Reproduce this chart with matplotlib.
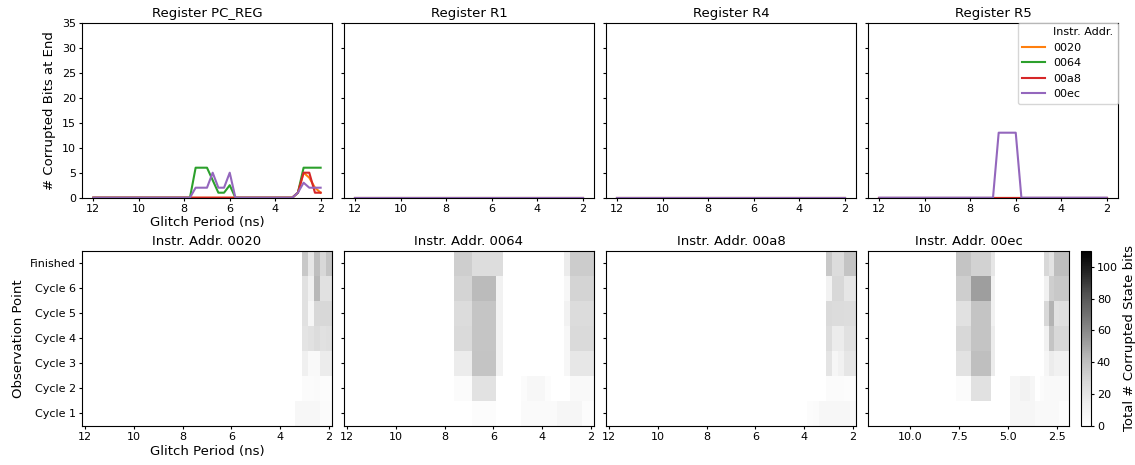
import numpy as np
import matplotlib
matplotlib.use("Agg")
import matplotlib.pyplot as plt
from matplotlib.lines import Line2D

plt.rcParams["font.size"] = 9.5
plt.rcParams["xtick.labelsize"] = 8
plt.rcParams["ytick.labelsize"] = 8
plt.rcParams["xtick.major.size"] = 2.2
plt.rcParams["ytick.major.size"] = 2.2
plt.rcParams["xtick.major.pad"] = 2
plt.rcParams["ytick.major.pad"] = 2
plt.rcParams["axes.titlesize"] = 9.5
plt.rcParams["axes.labelsize"] = 9.5

periods = np.linspace(12, 2, 41)
addrs = ["0020", "0064", "00a8", "00ec"]
registers = ["PC_REG", "R1", "R4", "R5"]
obs_points = ["Cycle 1", "Cycle 2", "Cycle 3", "Cycle 4", "Cycle 5", "Cycle 6", "Finished"]
line_colors = ["tab:orange", "tab:green", "tab:red", "tab:purple"]

# corrupted bits at end, only the non-zero (period, bits) points
pc_0020 = [(3.0, 1), (2.75, 5), (2.5, 4), (2.25, 2), (2.0, 1)]
pc_0064 = [(7.5, 6), (7.25, 6), (7.0, 6), (6.75, 3.5), (6.5, 1), (6.25, 1), (6.0, 2.5),
           (3.0, 1), (2.75, 6), (2.5, 6), (2.25, 6), (2.0, 6)]
pc_00a8 = [(3.0, 1), (2.75, 5), (2.5, 5), (2.25, 1), (2.0, 1)]
pc_00ec = [(7.5, 2), (7.25, 2), (7.0, 2), (6.75, 5), (6.5, 2), (6.25, 2), (6.0, 5),
           (3.0, 1), (2.75, 3), (2.5, 2), (2.25, 2), (2.0, 2)]
r5_00ec = [(6.75, 13), (6.5, 13), (6.25, 13), (6.0, 13)]

reg_bits = {
    "PC_REG": [pc_0020, pc_0064, pc_00a8, pc_00ec],
    "R1": [[], [], [], []],
    "R4": [[], [], [], []],
    "R5": [[], [], [], r5_00ec],
}

# total corrupted state bits, rows Cycle 1 .. Finished, spans (from, to, bits)
hm_0020 = [
    [(3.25, 2.5, 7), (2.25, 2.0, 4)],
    [(3.0, 2.75, 4), (2.5, 2.5, 5), (2.25, 2.0, 3)],
    [(3.0, 3.0, 14), (2.75, 2.5, 6), (2.25, 2.0, 16)],
    [(3.0, 3.0, 21), (2.75, 2.75, 23), (2.5, 2.5, 26), (2.25, 2.25, 23), (2.0, 2.0, 24)],
    [(3.0, 3.0, 23), (2.75, 2.75, 9), (2.5, 2.0, 28)],
    [(3.0, 3.0, 23), (2.75, 2.75, 14), (2.5, 2.5, 43), (2.25, 2.0, 23)],
    [(3.0, 3.0, 36), (2.75, 2.75, 20), (2.5, 2.5, 41), (2.25, 2.25, 28), (2.0, 2.0, 38)],
]
hm_0064 = [
    [(6.75, 6.0, 3), (4.75, 3.5, 5), (3.25, 2.5, 9), (2.25, 2.0, 3)],
    [(7.5, 7.0, 4), (6.75, 6.0, 22), (4.75, 4.75, 4), (4.5, 4.0, 7), (3.75, 3.75, 3), (2.75, 2.0, 6)],
    [(7.5, 7.0, 16), (6.75, 6.0, 38), (5.75, 5.75, 12), (3.0, 3.0, 8), (2.75, 2.0, 19)],
    [(7.5, 7.0, 27), (6.75, 6.0, 37), (5.75, 5.75, 12), (3.0, 3.0, 8), (2.75, 2.0, 27)],
    [(7.5, 7.0, 26), (6.75, 6.0, 37), (5.75, 5.75, 12), (3.0, 3.0, 12), (2.75, 2.0, 26)],
    [(7.5, 7.0, 30), (6.75, 6.0, 42), (5.75, 5.75, 12), (3.0, 3.0, 8), (2.75, 2.0, 30)],
    [(7.5, 7.0, 33), (6.75, 5.75, 25), (3.0, 3.0, 16), (2.75, 2.0, 34)],
]
hm_00a8 = [
    [(3.75, 3.75, 3), (3.5, 3.5, 4), (3.25, 2.5, 7), (2.25, 2.25, 8), (2.0, 2.0, 6)],
    [(3.0, 2.5, 4), (2.25, 2.0, 3)],
    [(3.0, 3.0, 21), (2.75, 2.75, 9), (2.5, 2.5, 13), (2.25, 2.0, 20)],
    [(3.0, 3.0, 25), (2.75, 2.5, 16), (2.25, 2.0, 23)],
    [(3.0, 3.0, 27), (2.75, 2.5, 26), (2.25, 2.0, 25)],
    [(3.0, 3.0, 12), (2.75, 2.5, 28), (2.25, 2.0, 20)],
    [(3.0, 3.0, 36), (2.75, 2.5, 26), (2.25, 2.0, 38)],
]
hm_00ec = [
    [(4.75, 3.75, 9), (3.5, 2.5, 6), (2.25, 2.0, 3)],
    [(7.5, 7.0, 4), (6.75, 6.0, 23), (4.75, 4.5, 9), (4.25, 4.0, 12), (3.75, 3.75, 9),
     (3.25, 3.25, 4), (3.0, 2.0, 6)],
    [(7.5, 7.0, 22), (6.75, 6.0, 40), (5.75, 5.75, 16), (3.0, 3.0, 9), (2.75, 2.75, 16), (2.5, 2.0, 13)],
    [(7.5, 7.0, 28), (6.75, 6.0, 38), (5.75, 5.75, 16), (3.0, 3.0, 13), (2.75, 2.75, 38), (2.5, 2.0, 28)],
    [(7.5, 7.0, 23), (6.75, 6.0, 38), (5.75, 5.75, 13), (3.0, 3.0, 28), (2.75, 2.75, 45),
     (2.5, 2.5, 23), (2.25, 2.0, 24)],
    [(7.5, 7.0, 33), (6.75, 6.0, 52), (5.75, 5.75, 13), (3.0, 3.0, 13), (2.75, 2.75, 33), (2.5, 2.0, 36)],
    [(7.5, 7.0, 38), (6.75, 6.0, 31), (5.75, 5.75, 20), (3.0, 3.0, 28), (2.75, 2.75, 22), (2.5, 2.0, 41)],
]
heatmaps = [hm_0020, hm_0064, hm_00a8, hm_00ec]
cmax = 110


def points_to_series(pts):
    y = np.zeros(len(periods))
    for p, v in pts:
        y[np.isclose(periods, p)] = v
    return y


def spans_to_row(spans):
    row = np.zeros(len(periods))
    for hi, lo, v in spans:
        row[(periods <= hi + 1e-6) & (periods >= lo - 1e-6)] = v
    return row


W, H = 1135, 465
fig = plt.figure(figsize=(W / 100, H / 100), dpi=100)

lefts = [82, 344, 606, 868]
top_axes = []
for i, reg in enumerate(registers):
    ax = fig.add_axes([lefts[i] / W, (H - 197.7) / H, 250 / W, 175 / H])
    for j, addr in enumerate(addrs):
        ax.plot(periods, points_to_series(reg_bits[reg][j]), color=line_colors[j], label=addr)
    ax.set_ylim(0, 35)
    ax.set_yticks(range(0, 36, 5))
    ax.set_xticks([12, 10, 8, 6, 4, 2])
    ax.invert_xaxis()
    ax.set_title("Register " + reg, pad=4)
    if i == 0:
        ax.set_ylabel("# Corrupted Bits at End")
        ax.set_xlabel("Glitch Period (ns)", labelpad=2)
    else:
        ax.set_yticklabels([])
    top_axes.append(ax)

# legend with a blank header row like seaborn's hue legend
handles = [Line2D([], [], color="none")] + [Line2D([], [], color=c) for c in line_colors]
labels = ["Instr. Addr."] + addrs
top_axes[3].legend(handles, labels, loc="upper right", borderaxespad=0, fontsize=8)

for i, addr in enumerate(addrs):
    width = 250 if i < 3 else 201
    ax = fig.add_axes([lefts[i] / W, (H - 426) / H, width / W, 175.3 / H])
    data = np.array([spans_to_row(r) for r in heatmaps[i]])
    mesh = ax.pcolormesh(periods, np.arange(len(obs_points)), data, cmap="Greys",
                         vmin=0, vmax=cmax, shading="nearest")
    ax.invert_xaxis()
    ax.set_yticks(np.arange(len(obs_points)))
    ax.set_title("Instr. Addr. " + addr, pad=4)
    if i < 3:
        ax.set_xticks([12, 10, 8, 6, 4, 2])
    else:
        ax.set_xticks([10, 7.5, 5, 2.5])
    if i == 0:
        ax.set_yticklabels(obs_points)
        ax.set_ylabel("Observation Point")
        ax.set_xlabel("Glitch Period (ns)", labelpad=2)
    else:
        ax.set_yticklabels([])

cax = fig.add_axes([1081 / W, (H - 426) / H, 10 / W, 175.3 / H])
cb = fig.colorbar(mesh, cax=cax)
cb.set_ticks(range(0, 101, 20))
cb.set_label("Total # Corrupted State bits")

fig.savefig("out.png", dpi=100)
